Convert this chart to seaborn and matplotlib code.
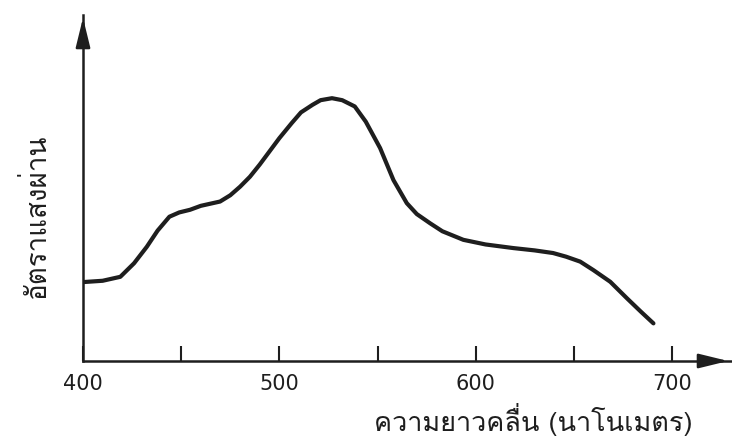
import matplotlib
matplotlib.use("Agg")
import matplotlib.pyplot as plt
import seaborn as sns
import pandas as pd
from matplotlib import font_manager
from matplotlib.ft2font import FT2Font

# ---- data ----
wavelength = [400, 410, 419, 426, 432.5, 438, 444, 449, 454.5, 460, 469.8,
              475, 480, 485, 490, 495.5, 500, 506.2, 511, 516.9, 521,
              526.8, 532, 538.4, 544, 551.3, 558.1, 564.9, 570, 576.8, 583,
              593.7, 605, 619.2, 630, 639.4, 646, 653.2, 660, 668.5, 677,
              684, 690.5]
transmission = [23.9, 24.3, 25.5, 29.6, 34.6, 39.5, 43.7, 45.0, 45.8, 47.0, 48.3,
                50.2, 52.8, 55.8, 59.5, 63.9, 67.5, 72.0, 75.3, 77.6, 79.0,
                79.6, 79.0, 77.1, 72.5, 64.5, 54.8, 47.8, 44.5, 41.7, 39.3,
                36.7, 35.3, 34.2, 33.5, 32.7, 31.6, 30.1, 27.5, 24.0, 19.0,
                15.0, 11.4]
major_ticks = [400, 500, 600, 700]
minor_ticks = [450, 550, 650]
tick_labels = ["400", "500", "600", "700"]
x_label = "ความยาวคลื่น (นาโนเมตร)"
y_label = "อัตราแสงผ่าน"


def thai_families():
    fams = []
    for f in font_manager.fontManager.ttflist:
        try:
            cm = FT2Font(f.fname).get_charmap()
        except Exception:
            continue
        if 0x0E01 in cm and f.name not in fams:
            fams.append(f.name)
    return fams


sns.set_theme(style="white")
thai = thai_families()
plt.rcParams['font.family'] = thai + ['DejaVu Sans']

df = pd.DataFrame({"wavelength": wavelength, "transmission": transmission})

ink = "#1e1e1e"
fig = plt.figure(figsize=(7.32, 4.38), dpi=100)
fig.patch.set_facecolor("white")
ax = fig.add_axes([83 / 732, 77 / 438, (731 - 83) / 732, (361 - 15) / 438])
ax.set_facecolor("white")

sns.lineplot(data=df, x="wavelength", y="transmission", ax=ax, color=ink,
             linewidth=3.0, solid_joinstyle="round", solid_capstyle="round")

ax.set_xlim(400, 730)
ax.set_ylim(0, 104.8)

for s in ["top", "right"]:
    ax.spines[s].set_visible(False)
for s in ["left", "bottom"]:
    ax.spines[s].set_color(ink)
    ax.spines[s].set_linewidth(1.8)

# arrow heads
ax.annotate("", xy=(1.0, 0), xytext=(0.95, 0), xycoords="axes fraction",
            arrowprops=dict(arrowstyle="-|>,head_length=0.9,head_width=0.22",
                            mutation_scale=20, color=ink, lw=1.8))
ax.annotate("", xy=(0, 1.0), xytext=(0, 0.93), xycoords="axes fraction",
            arrowprops=dict(arrowstyle="-|>,head_length=0.9,head_width=0.22",
                            mutation_scale=20, color=ink, lw=1.8))

ax.set_xticks(major_ticks)
ax.set_xticklabels(tick_labels, family=["DejaVu Sans"])
ax.set_xticks(minor_ticks, minor=True)
ax.tick_params(axis="x", which="both", direction="in", length=11, width=1.5,
               color=ink, pad=9, labelsize=15, labelcolor=ink, bottom=True)
ax.set_yticks([])

ax.set_xlabel(x_label, fontsize=19.5, color=ink)
ax.xaxis.set_label_coords(0.695, -0.12)
ax.set_ylabel(y_label, fontsize=20, color=ink)
ax.yaxis.set_label_coords(-0.05, 0.42)

fig.savefig("out.png", dpi=100, facecolor="white")
